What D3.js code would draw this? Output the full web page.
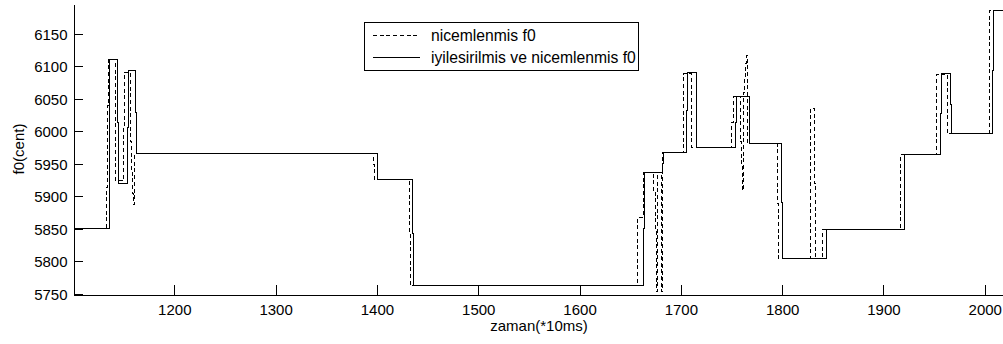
<!DOCTYPE html>
<html>
<head>
<meta charset="utf-8">
<script src="https://cdn.jsdelivr.net/npm/d3@7"></script>
<style>
  html, body { margin: 0; padding: 0; background: #fff; }
  svg { display: block; }
  text { font-family: "Liberation Sans", Arial, sans-serif; font-size: 15px; fill: #000; }
  .legend-label { font-size: 15.7px; }
</style>
</head>
<body>
<svg id="chart" width="1003" height="344"></svg>
<script>
// Frame indices (x 10 ms) where the quantized pitch changes, and the value (cent) held from there on.
const quantFrames = [1100, 1133, 1134, 1135, 1141, 1149, 1150, 1156, 1157, 1158, 1159, 1160,
  1396, 1397, 1432, 1433, 1657, 1663, 1673, 1674, 1675, 1676, 1680, 1681,
  1702, 1710, 1750, 1751, 1758, 1759, 1760, 1761, 1762, 1763, 1764, 1765,
  1795, 1796, 1827, 1831, 1832, 1839, 1916, 1952, 1963, 2004, 2018];
const quantCents = [5852, 5915, 6040, 6111, 5925, 6010, 6092, 5985, 5940, 5905, 5888, 5967,
  5950, 5927, 5845, 5764, 5869, 5938, 5910, 5850, 5755, 5938, 5755, 5968,
  6090, 5976, 6015, 6055, 5985, 5950, 5910, 6060, 6085, 6105, 6118, 5982,
  5890, 5805, 6036, 5920, 5805, 5850, 5965, 6089, 5998, 6187, 6187];

// Improved and quantized pitch contour.
const improvedFrames = [1100, 1136, 1143, 1144, 1153, 1154, 1161, 1162, 1400, 1435, 1436,
  1663, 1664, 1681, 1682, 1705, 1706, 1715, 1753, 1754, 1767, 1799, 1800,
  1843, 1920, 1956, 1957, 1966, 1967, 2007, 2008, 2018];
const improvedCents = [5852, 6111, 6015, 5920, 6007, 6094, 6030, 5967, 5927, 5844, 5764,
  5852, 5938, 5951, 5968, 6033, 6092, 5976, 6015, 6055, 5982, 5892, 5805,
  5850, 5965, 6028, 6090, 6042, 5998, 6094, 6187, 6187];

const xTicks = [1200, 1300, 1400, 1500, 1600, 1700, 1800, 1900, 2000];
const yTicks = [5750, 5800, 5850, 5900, 5950, 6000, 6050, 6100, 6150];

const xDomain = [1100, 2018];
const yDomain = [5750, 6196];

const seriesNames = ["nicemlenmis f0", "iyilesirilmis ve nicemlenmis f0"];

const svg = d3.select("#chart");
const plotLeft = 73, plotRight = 1003, plotTop = 4, plotBottom = 294;

const x = d3.scaleLinear().domain(xDomain).range([plotLeft, plotRight]);
const y = d3.scaleLinear().domain(yDomain).range([plotBottom, plotTop]);

const line = d3.line()
  .x(d => Math.round(x(d[0])) + 0.5)
  .y(d => Math.round(y(d[1])) + 0.5)
  .curve(d3.curveStepAfter);

const quant = quantFrames.map((f, i) => [f, quantCents[i]]);
const improved = improvedFrames.map((f, i) => [f, improvedCents[i]]);

// Dashed: quantized contour
svg.append("path")
  .datum(quant)
  .attr("d", line)
  .attr("fill", "none")
  .attr("stroke", "#000")
  .attr("stroke-width", 1)
  .attr("stroke-dasharray", "4,2.7")
  .attr("shape-rendering", "crispEdges");

// Solid: improved contour
svg.append("path")
  .datum(improved)
  .attr("d", line)
  .attr("fill", "none")
  .attr("stroke", "#000")
  .attr("stroke-width", 1)
  .attr("shape-rendering", "crispEdges");

// Axes (ticks pointing inward, only left and bottom)
const fmt = d3.format("d");
const xAxis = d3.axisBottom(x).tickValues(xTicks).tickFormat(fmt)
  .tickSizeInner(-10).tickSizeOuter(0).tickPadding(0);
const gx = svg.append("g").attr("transform", `translate(0,${plotBottom + 0.5})`).call(xAxis);
gx.select(".domain").attr("stroke", "#000").attr("shape-rendering", "crispEdges");
gx.selectAll(".tick line").attr("stroke", "#000").attr("shape-rendering", "crispEdges");
gx.selectAll(".tick text")
  .attr("dy", null).attr("y", 20);

const yAxis = d3.axisLeft(y).tickValues(yTicks).tickFormat(fmt)
  .tickSizeInner(-9).tickSizeOuter(0).tickPadding(0);
const gy = svg.append("g").attr("transform", `translate(${plotLeft + 0.5},0)`).call(yAxis);
gy.select(".domain").attr("stroke", "#000").attr("shape-rendering", "crispEdges");
gy.selectAll(".tick line").attr("stroke", "#000").attr("shape-rendering", "crispEdges");
gy.selectAll(".tick text")
  .attr("x", -6).attr("dy", "0.36em");
svg.selectAll(".tick text")
  .attr("font-size", null).attr("font-family", null)
  .style("font-size", "15px").style("font-family", '"Liberation Sans", Arial, sans-serif')
  .attr("fill", "#000");
svg.selectAll("g").attr("font-size", null).attr("font-family", null);

// Axis titles
svg.append("text")
  .attr("x", (plotLeft + plotRight) / 2 + 1)
  .attr("y", 331)
  .attr("text-anchor", "middle")
  .text("zaman(*10ms)");

svg.append("text")
  .attr("transform", `translate(24,${(plotTop + plotBottom) / 2}) rotate(-90)`)
  .attr("text-anchor", "middle")
  .text("f0(cent)");

// Legend
const lg = svg.append("g");
lg.append("rect")
  .attr("x", 364.5).attr("y", 22.5).attr("width", 274).attr("height", 48)
  .attr("fill", "#fff").attr("stroke", "#000").attr("shape-rendering", "crispEdges");
const rows = [{ dash: "4,2.7", y: 35.5 }, { dash: null, y: 57.5 }];
rows.forEach((r, i) => {
  lg.append("line")
    .attr("x1", 373).attr("x2", 420).attr("y1", r.y).attr("y2", r.y)
    .attr("stroke", "#000").attr("stroke-dasharray", r.dash)
    .attr("shape-rendering", "crispEdges");
  lg.append("text")
    .attr("class", "legend-label")
    .attr("x", 431).attr("y", r.y + 5)
    .text(seriesNames[i]);
});
</script>
</body>
</html>
